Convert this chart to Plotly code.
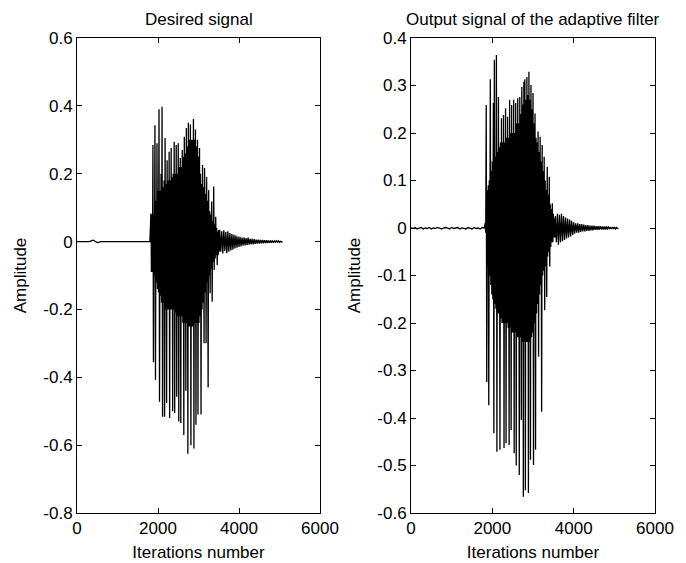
import plotly.graph_objects as go

# ---------------- data ----------------
BURST_START = 1825      # first burst bin (iterations)
BURST_STEP = 25
TAIL_STEP = 50
PRE_STEP_LEFT = 100
PRE_STEP_RIGHT = 50

# Desired signal
left_pre = [0, 0, 0, 0, 0.004, -0.003, 0, 0, 0, 0, 0, 0, 0, 0, 0, 0, 0, 0, 0]
left_hi = [0.083, 0.08, 0.285, 0.08, 0.343, 0.12, 0.29, 0.15, 0.39, 0.15,
           0.2, 0.397, 0.16, 0.18, 0.305, 0.17, 0.24, 0.18, 0.265, 0.18,
           0.276, 0.19, 0.2, 0.294, 0.2, 0.285, 0.2, 0.29, 0.22, 0.246,
           0.22, 0.27, 0.25, 0.309, 0.26, 0.335, 0.28, 0.35, 0.3, 0.345,
           0.3, 0.3, 0.361, 0.3, 0.33, 0.28, 0.3, 0.25, 0.276, 0.2,
           0.17, 0.226, 0.16, 0.217, 0.14, 0.19, 0.12, 0.152, 0.09, 0.08,
           0.118, 0.06, 0.162, 0.05, 0.073, 0.04, 0.03, 0.034]
left_lo = [-0.09, -0.09, -0.356, -0.1, -0.408, -0.12, -0.14, -0.15, -0.472, -0.16,
           -0.18, -0.516, -0.18, -0.516, -0.2, -0.476, -0.2, -0.2, -0.52, -0.2,
           -0.2, -0.5, -0.2, -0.505, -0.21, -0.457, -0.22, -0.53, -0.22, -0.535,
           -0.22, -0.24, -0.57, -0.24, -0.44, -0.24, -0.625, -0.25, -0.25, -0.6,
           -0.25, -0.25, -0.61, -0.24, -0.54, -0.24, -0.51, -0.24, -0.22, -0.51,
           -0.2, -0.18, -0.30, -0.15, -0.3, -0.12, -0.43, -0.1, -0.152, -0.08,
           -0.177, -0.06, -0.084, -0.05, -0.04, -0.069, -0.04, -0.03]
left_tail_hi = [0.035, 0.03, 0.033, 0.028, 0.03, 0.025, 0.022, 0.02, 0.018, 0.015,
                0.014, 0.012, 0.012, 0.01, 0.012, 0.008, 0.008, 0.007, 0.006, 0.006,
                0.005, 0.005, 0.004, 0.004, 0.003, 0.003, 0.003, 0.002, 0.002, 0.002,
                0.001]
left_tail_lo = [-0.03, -0.035, -0.028, -0.034, -0.03, -0.026, -0.024, -0.02, -0.018, -0.016,
                -0.014, -0.012, -0.011, -0.01, -0.009, -0.008, -0.008, -0.007, -0.006, -0.006,
                -0.005, -0.005, -0.004, -0.004, -0.003, -0.003, -0.003, -0.002, -0.002, -0.002,
                -0.001]

# Output signal of the adaptive filter
right_pre = [0, -0.001, 0.001, -0.002, 0, 0.001, -0.002, 0, -0.001, 0.001,
             -0.002, 0, -0.001, 0.001, 0, -0.002, 0, 0.001, 0, -0.002,
             0.001, -0.001, 0, 0.001, -0.002, 0, -0.001, -0.002, 0.001, 0,
             -0.002, 0.001, -0.001, 0, -0.002, 0.001, 0]
right_hi = [0.01, 0.259, 0.08, 0.09, 0.10, 0.313, 0.12, 0.14, 0.263, 0.354,
            0.15, 0.364, 0.16, 0.276, 0.17, 0.18, 0.231, 0.18, 0.238, 0.18,
            0.252, 0.19, 0.234, 0.19, 0.27, 0.2, 0.259, 0.2, 0.27, 0.2,
            0.263, 0.22, 0.273, 0.22, 0.276, 0.24, 0.297, 0.26, 0.308, 0.313,
            0.27, 0.318, 0.28, 0.329, 0.27, 0.301, 0.25, 0.284, 0.22, 0.241,
            0.19, 0.18, 0.203, 0.16, 0.192, 0.14, 0.175, 0.12, 0.15, 0.1,
            0.08, 0.129, 0.07, 0.108, 0.05, 0.04, 0.052, 0.03, 0.02]
right_lo = [-0.01, -0.324, -0.08, -0.373, -0.1, -0.12, -0.14, -0.15, -0.432, -0.16,
            -0.17, -0.471, -0.18, -0.18, -0.467, -0.19, -0.2, -0.2, -0.463, -0.2,
            -0.453, -0.2, -0.21, -0.457, -0.21, -0.425, -0.22, -0.22, -0.474, -0.22,
            -0.5, -0.23, -0.23, -0.52, -0.23, -0.404, -0.24, -0.566, -0.24, -0.552,
            -0.24, -0.24, -0.558, -0.24, -0.488, -0.23, -0.22, -0.499, -0.2, -0.467,
            -0.18, -0.16, -0.271, -0.14, -0.12, -0.387, -0.1, -0.09, -0.173, -0.08,
            -0.145, -0.06, -0.05, -0.081, -0.04, -0.03, -0.03, -0.02, -0.02]
right_tail_hi = [0.025, 0.03, 0.028, 0.03, 0.025, 0.022, 0.02, 0.018, 0.015, 0.012,
                 0.01, 0.01, 0.008, 0.008, 0.007, 0.006, 0.006, 0.005, 0.005, 0.005,
                 0.004, 0.004, 0.004, 0.003, 0.003, 0.003, 0.003, 0.002, 0.002, 0.002,
                 0.001]
right_tail_lo = [-0.03, -0.035, -0.03, -0.028, -0.025, -0.022, -0.02, -0.018, -0.015, -0.012,
                 -0.01, -0.01, -0.008, -0.007, -0.007, -0.006, -0.006, -0.005, -0.005, -0.004,
                 -0.004, -0.004, -0.003, -0.003, -0.003, -0.003, -0.002, -0.002, -0.002, -0.002,
                 -0.001]

titles = ["Desired signal", "Output signal of the adaptive filter"]
x_label = "Iterations number"
y_label = "Amplitude"
x_ticks = [0, 2000, 4000, 6000]
left_y_ticks = [-0.8, -0.6, -0.4, -0.2, 0, 0.2, 0.4, 0.6]
right_y_ticks = [-0.6, -0.5, -0.4, -0.3, -0.2, -0.1, 0, 0.1, 0.2, 0.3, 0.4]


def fmt(v):
    return "%g" % v


def build(pre, pre_step, hi, lo, tail_hi, tail_lo):
    xs, ys = [], []
    for i, v in enumerate(pre):
        xs.append(i * pre_step)
        ys.append(v)
    for k, (h, l) in enumerate(zip(hi, lo)):
        x0 = BURST_START + k * BURST_STEP
        xs += [x0, x0 + BURST_STEP / 2]
        ys += [h, l]
    tail_start = BURST_START + len(hi) * BURST_STEP
    for k, (h, l) in enumerate(zip(tail_hi, tail_lo)):
        x0 = tail_start + k * TAIL_STEP
        xs += [x0, x0 + TAIL_STEP / 2]
        ys += [h, l]
    xs.append(tail_start + len(tail_hi) * TAIL_STEP)
    ys.append(0)
    return xs, ys


lx, ly = build(left_pre, PRE_STEP_LEFT, left_hi, left_lo, left_tail_hi, left_tail_lo)
rx, ry = build(right_pre, PRE_STEP_RIGHT, right_hi, right_lo, right_tail_hi, right_tail_lo)

W, H = 686, 563
OFF = 8  # page body margin that offsets the figure in the screenshot
fig = go.Figure()
fig.add_trace(go.Scatter(x=lx, y=ly, mode="lines", line=dict(color="black", width=1.3),
                         xaxis="x", yaxis="y", showlegend=False, hoverinfo="skip"))
fig.add_trace(go.Scatter(x=rx, y=ry, mode="lines", line=dict(color="black", width=1.3),
                         xaxis="x2", yaxis="y2", showlegend=False, hoverinfo="skip"))

tick_font = dict(family="Liberation Sans, Arial, sans-serif", size=17, color="black")
label_font = dict(family="Liberation Sans, Arial, sans-serif", size=17, color="black")


def px_x(p):
    return (p - OFF) / W


def px_y(p):
    return 1 - (p - OFF) / H


ydom = [px_y(513), px_y(38)]

axis_common = dict(showline=True, linecolor="black", linewidth=1, mirror="ticks",
                   ticks="inside", ticklen=5, tickcolor="black", showgrid=False,
                   zeroline=False, tickfont=tick_font, automargin=False)

fig.update_layout(
    width=W, height=H,
    margin=dict(l=0, r=0, t=0, b=0),
    paper_bgcolor="white", plot_bgcolor="white",
    font=label_font,
    xaxis=dict(domain=[px_x(77), px_x(320)], range=[0, 6000], tickvals=x_ticks,
               ticktext=[fmt(v) for v in x_ticks], anchor="y",
               title=dict(text=x_label, font=label_font, standoff=8), **axis_common),
    yaxis=dict(domain=ydom, range=[-0.8, 0.6], tickvals=left_y_ticks,
               ticktext=[fmt(v) for v in left_y_ticks], anchor="x",
               title=dict(text=y_label, font=label_font, standoff=12), **axis_common),
    xaxis2=dict(domain=[px_x(411), px_x(655)], range=[0, 6000], tickvals=x_ticks,
                ticktext=[fmt(v) for v in x_ticks], anchor="y2",
                title=dict(text=x_label, font=label_font, standoff=8), **axis_common),
    yaxis2=dict(domain=ydom, range=[-0.6, 0.4], tickvals=right_y_ticks,
                ticktext=[fmt(v) for v in right_y_ticks], anchor="x2",
                title=dict(text=y_label, font=label_font, standoff=12), **axis_common),
    annotations=[
        dict(text=titles[0], x=px_x((77 + 320) / 2), y=px_y(19), xref="paper", yref="paper",
             showarrow=False, font=label_font, xanchor="center", yanchor="middle"),
        dict(text=titles[1], x=px_x((411 + 655) / 2), y=px_y(19), xref="paper", yref="paper",
             showarrow=False, font=label_font, xanchor="center", yanchor="middle"),
    ],
)

fig.write_html("out.html")
